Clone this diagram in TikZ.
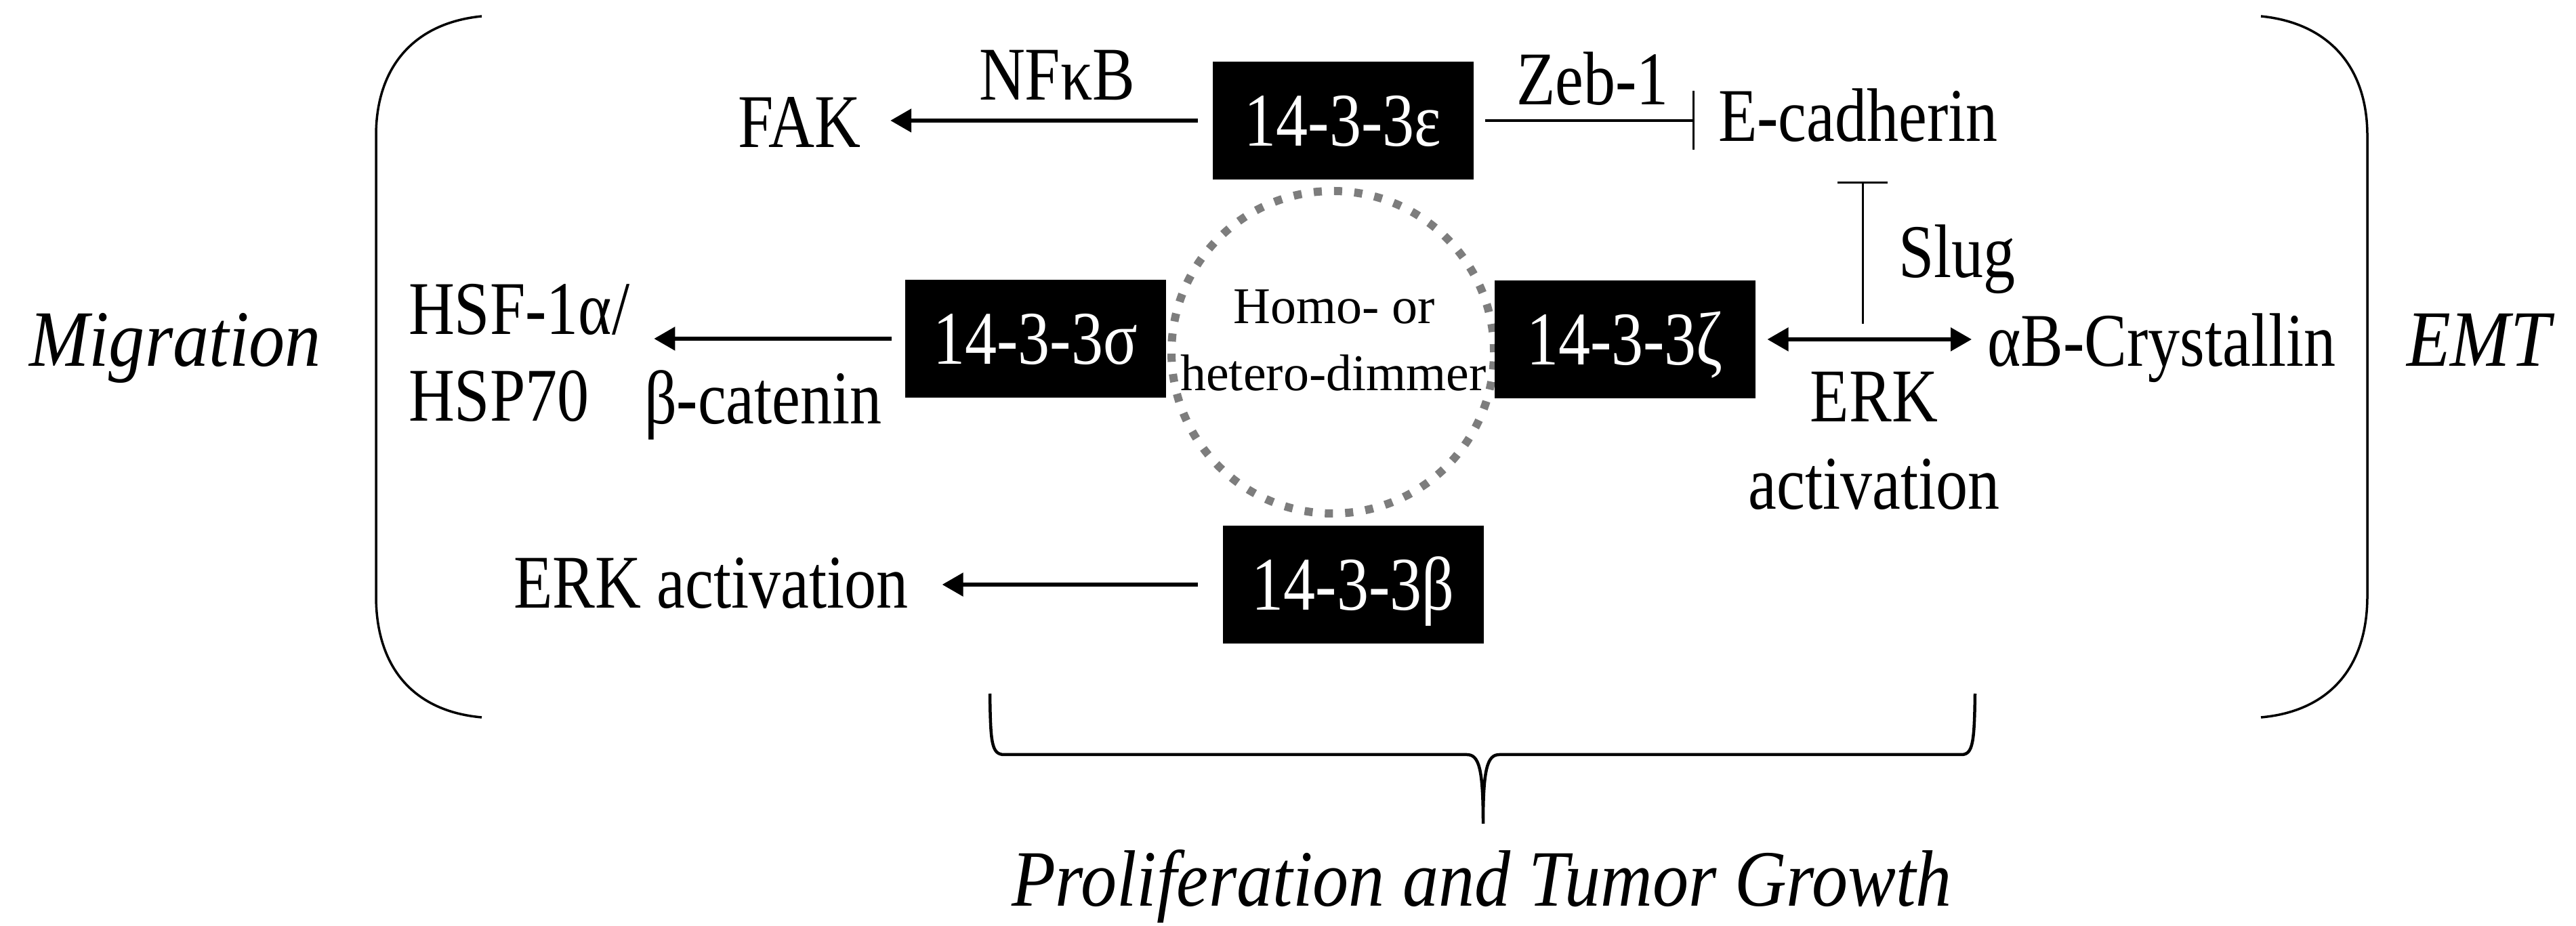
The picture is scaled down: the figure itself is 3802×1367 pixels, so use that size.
\documentclass[tikz,border=0pt]{standalone}
\usepackage{fontspec}
\usepackage{graphicx}
\setmainfont{Liberation Serif}
\usetikzlibrary{arrows.meta}
\definecolor{dotgray}{RGB}{125,125,125}
\newcommand{\cnd}[1]{\scalebox{0.84}[1]{#1}}
\newcommand{\itc}[1]{\scalebox{0.9}[1]{#1}}
\begin{document}
\begin{tikzpicture}[x=0.2pt,y=-0.2pt,
  lab/.style={font=\fontsize{22.4}{25.6}\selectfont, inner sep=0pt, anchor=base west},
  itlab/.style={font=\itshape\fontsize{23.6}{28}\selectfont, inner sep=0pt, anchor=base west},
  dimtext/.style={font=\fontsize{15.2}{19.8}\selectfont, inner sep=0pt, anchor=base},
  box/.style={fill=black, text=white, minimum width=77pt, minimum height=34.8pt, inner sep=0pt,
    text height=15pt, text depth=0pt, font=\fontsize{22.4}{25.6}\selectfont},
  arr/.style={line width=1.1pt, -{Triangle[length=6.2pt,width=6.8pt]}},
  arrtwo/.style={line width=1.1pt, {Triangle[length=6.2pt,width=6.8pt]}-{Triangle[length=6.2pt,width=6.8pt]}},
  inh/.style={line width=0.7pt, -{Bar[width=17.4pt]}},
  inhtwo/.style={line width=0.6pt, -{Bar[width=14.8pt]}},
  brk/.style={line width=0.7pt},
  brc/.style={line width=0.9pt}
]
\useasboundingbox (0,0) rectangle (3802,1367);

% dimer circle (behind the boxes)
\node[circle, draw=dotgray, line width=2.4pt, dash pattern=on 2.4pt off 3.6pt,
      minimum size=95.2pt, inner sep=0pt] (dimer) at (1967,520) {};
\node[dimtext] (homo) at (1969,478) {Homo- or};
\node[dimtext] (hetero) at (1968,577) {hetero-dimmer};

% isoform boxes
\node[box] (eps) at (1982,178) {\cnd{14-3-3ε}};
\node[box] (sig) at (1528,500) {\cnd{14-3-3σ}};
\node[box] (zeta) at (2398,501) {\cnd{14-3-3ζ}};
\node[box] (beta) at (1997,863) {\cnd{14-3-3β}};

% labels
\node[lab] (fak) at (1088,218) {\cnd{FAK}};
\node[lab] (nfkb) at (1444,148) {\cnd{NFκB}};
\node[lab] (zeb) at (2237,155) {\cnd{Zeb-1}};
\node[lab] (ecad) at (2535,209) {\cnd{E-cadherin}};
\node[lab, anchor=west, align=left] (hsf) at (602,521) {\cnd{HSF-1α/}\\\cnd{HSP70}};
\node[lab] (bcat) at (950,626) {\cnd{β-catenin}};
\node[lab] (erkl) at (757,898) {\cnd{ERK activation}};
\node[lab] (slug) at (2801,410) {\cnd{Slug}};
\node[lab] (abc) at (2932,541) {\cnd{αB-Crystallin}};
\node[lab, anchor=base] (erk) at (2766,623) {\cnd{ERK}};
\node[lab, anchor=base] (act) at (2766,752) {\cnd{activation}};
\node[itlab] (mig) at (42,541) {\itc{Migration}};
\node[itlab] (emt) at (3551,541) {\itc{EMT}};
\node[itlab] (prolif) at (1492,1338) {\itc{Proliferation and Tumor Growth}};

% connectors
\draw[arr, shorten <=4.2pt, shorten >=8.6pt] (eps.west) -- (fak.east |- eps.west);
\draw[arr, shorten <=3.8pt, shorten >=7pt] (sig.west) -- (hsf.east |- sig.west);
\draw[arr, shorten <=7.2pt, shorten >=9.8pt] (beta.west) -- (erkl.east |- beta.west);
\draw[arrtwo, shorten <=3.4pt, shorten >=4.4pt] (zeta.east) -- (abc.west |- zeta.east);
\draw[inh, shorten <=3.2pt, shorten >=6.8pt] (eps.east) -- (ecad.west |- eps.east);
\coordinate (tfoot) at (2749,478);
\draw[inhtwo, shorten >=11.4pt] (tfoot) -- (tfoot |- ecad.south);

% brackets
\draw[brk] (711,24) .. controls (610,34) and (555,100) .. (555,200) -- (555,880)
  .. controls (555,985) and (610,1050) .. (711,1059);
\draw[brk] (3337,24) .. controls (3438,34) and (3494,100) .. (3494,200) -- (3494,880)
  .. controls (3494,985) and (3438,1050) .. (3337,1059);
\draw[brc] (1461,1024) .. controls (1462,1095) and (1463,1114) .. (1482,1114) -- (2165,1114)
  .. controls (2183,1114) and (2189,1135) .. (2189,1216)
  .. controls (2189,1135) and (2195,1114) .. (2213,1114) -- (2895,1114)
  .. controls (2912,1114) and (2914,1095) .. (2915,1024);
\end{tikzpicture}
\end{document}
